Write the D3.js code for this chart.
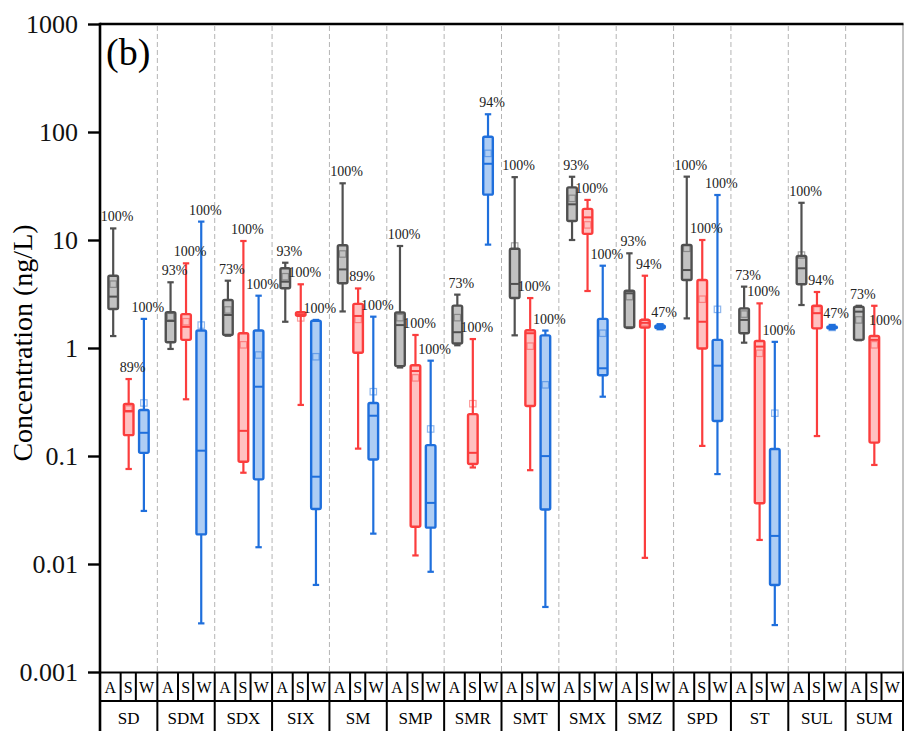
<!DOCTYPE html>
<html lang="en">
<head>
<meta charset="UTF-8">
<title>Concentration box plot</title>
<style>
body { margin: 0; background: #fff; }
svg text { font-family: "Liberation Serif", "Times New Roman", Times, serif; }
.sep { stroke: #b4b4b4; stroke-width: 1; stroke-dasharray: 5,3; }
.pct { font-size: 14px; fill: #222; text-anchor: middle; }
.tbl { stroke: #000; stroke-width: 2; }
</style>
</head>
<body>
<script src="https://d3js.org/d3.v7.min.js"></script>
<script>
// groups and the three sample types
var groups = ["SD", "SDM", "SDX", "SIX", "SM", "SMP", "SMR", "SMT", "SMX", "SMZ", "SPD", "ST", "SUL", "SUM"];
var types = ["A", "S", "W"];
var tickVals = [0.001, 0.01, 0.1, 1, 10, 100, 1000];
var tickText = ["0.001", "0.01", "0.1", "1", "10", "100", "1000"];

// [whisker low, Q1, median, Q3, whisker high, mean] per group
var statA = [
  [1.29, 2.30, 2.99, 4.67, 12.8, 3.9],
  [0.98, 1.13, 1.78, 2.14, 4.06, 1.95],
  [1.30, 1.32, 2.02, 2.78, 4.2, 2.25],
  [1.75, 3.57, 4.11, 5.47, 6.16, 4.57],
  [2.18, 3.98, 5.34, 8.93, 33.5, 7.42],
  [0.66, 0.68, 1.63, 2.13, 8.8, 1.91],
  [1.06, 1.10, 1.40, 2.47, 3.12, 1.91],
  [1.31, 2.9, 3.92, 8.29, 38.2, 8.8],
  [10.0, 15.0, 21.4, 30.7, 38.5, 24.3],
  [1.53, 1.55, 3.21, 3.39, 7.53, 2.99],
  [1.88, 4.26, 5.27, 8.99, 38.6, 8.38],
  [1.12, 1.37, 1.82, 2.33, 3.7, 2.06],
  [2.5, 3.89, 5.47, 7.11, 22.1, 7.25],
  [1.18, 1.19, 2.17, 2.41, 2.46, 1.82]
];
var statS = [
  [0.0758, 0.156, 0.261, 0.303, 0.516, 0.272],
  [0.335, 1.19, 1.57, 2.06, 6.08, 1.75],
  [0.070, 0.0885, 0.171, 1.37, 9.79, 1.07],
  [0.297, 1.99, 2.05, 2.14, 3.89, 1.9],
  [0.117, 0.903, 1.98, 2.56, 3.56, 1.84],
  [0.012, 0.0221, 0.612, 0.693, 1.32, 0.529],
  [0.0783, 0.0843, 0.107, 0.244, 1.21, 0.305],
  [0.0739, 0.29, 1.37, 1.46, 2.9, 1.04],
  [3.37, 11.4, 16.2, 19.4, 23.5, 13.8],
  [0.0114, 1.55, 1.71, 1.82, 4.67, 1.74],
  [0.124, 0.99, 1.75, 4.26, 10.0, 2.83],
  [0.0167, 0.0365, 1.03, 1.16, 2.59, 0.893],
  [0.153, 1.52, 2.1, 2.46, 3.3, 2.25],
  [0.0826, 0.133, 1.19, 1.29, 2.46, 1.07]
];
var statW = [
  [0.031, 0.107, 0.164, 0.267, 1.86, 0.31],
  [0.00282, 0.0188, 0.112, 1.45, 14.8, 1.63],
  [0.0143, 0.0608, 0.438, 1.45, 3.05, 0.861],
  [0.0064, 0.0323, 0.0643, 1.79, 1.82, 0.83],
  [0.0191, 0.0928, 0.236, 0.31, 1.95, 0.394],
  [0.00847, 0.0217, 0.0368, 0.126, 0.763, 0.178],
  [9.06, 26.3, 50.8, 90.3, 146, 63.4],
  [0.004, 0.032, 0.0998, 1.31, 1.45, 0.456],
  [0.354, 0.559, 0.649, 1.86, 5.78, 1.37],
  [1.50, 1.53, 1.57, 1.62, 1.66, 1.57],
  [0.068, 0.211, 0.686, 1.19, 26.1, 2.28],
  [0.00272, 0.0064, 0.0182, 0.116, 1.14, 0.249],
  [1.49, 1.52, 1.55, 1.58, 1.63, 1.55],
  null
];
// detection frequency (%)
var pctA = [100, 93, 73, 93, 100, 100, 73, 100, 93, 93, 100, 73, 100, 73];
var pctS = [89, 100, 100, 100, 89, 100, 100, 100, 100, 94, 100, 100, 94, 100];
var pctW = [100, 100, 100, 100, 100, 100, 94, 100, 100, 47, 100, 100, 47, null];

var stats = { A: statA, S: statS, W: statW };
var pcts = { A: pctA, S: pctS, W: pctW };
var colors = {
  A: { stroke: "#505050", fill: "#c2c2c2" },
  S: { stroke: "#fb3d3d", fill: "#ffc1c1" },
  W: { stroke: "#1f6fdc", fill: "#aecdf4" }
};
var offset = { A: 0.23, S: 0.5, W: 0.765 };
var serif = "'Liberation Serif', 'Times New Roman', Times, serif";

// note: "top" would clash with window.top
var svgW = 904, svgH = 731;
var plotL = 100, plotR = 903, plotT = 24, plotB = 672;

var svg = d3.select("body").append("svg")
    .attr("width", svgW)
    .attr("height", svgH)
    .attr("font-family", serif);

var x = d3.scaleBand().domain(groups).range([plotL, plotR]);
var y = d3.scaleLog().domain([0.001, 1000]).range([plotB, plotT]);
var bw = x.bandwidth();

// dashed separators between groups
svg.append("g").selectAll("line")
  .data(groups.slice(1))
  .enter().append("line")
    .attr("class", "sep")
    .attr("x1", function(d) { return x(d); })
    .attr("x2", function(d) { return x(d); })
    .attr("y1", plotT + 2)
    .attr("y2", plotB);

// right border
svg.append("line")
    .attr("x1", plotR).attr("x2", plotR)
    .attr("y1", plotT).attr("y2", plotB)
    .attr("stroke", "#888").attr("stroke-width", 1);

var boxes = svg.append("g");
var labels = svg.append("g");

groups.forEach(function(gname, i) {
  types.forEach(function(t) {
    var d = stats[t][i];
    if (!d) return;
    var cx = x(gname) + bw * offset[t];
    var c = colors[t];
    var g = boxes.append("g");
    var hw = 4.8;

    g.append("line")
        .attr("x1", cx).attr("x2", cx)
        .attr("y1", y(d[0])).attr("y2", y(d[4]))
        .attr("stroke", c.stroke).attr("stroke-width", 2.2);
    [d[0], d[4]].forEach(function(v) {
      g.append("line")
          .attr("x1", cx - 3.2).attr("x2", cx + 3.2)
          .attr("y1", y(v)).attr("y2", y(v))
          .attr("stroke", c.stroke).attr("stroke-width", 2.2);
    });
    g.append("rect")
        .attr("x", cx - hw)
        .attr("y", y(d[3]))
        .attr("width", hw * 2)
        .attr("height", Math.max(1, y(d[1]) - y(d[3])))
        .attr("rx", 1.5)
        .attr("fill", c.fill)
        .attr("stroke", c.stroke)
        .attr("stroke-width", 2.4);
    g.append("line")
        .attr("x1", cx - hw).attr("x2", cx + hw)
        .attr("y1", y(d[2])).attr("y2", y(d[2]))
        .attr("stroke", c.stroke).attr("stroke-width", 2);
    g.append("rect")
        .attr("x", cx - 3.2)
        .attr("y", y(d[5]) - 3.2)
        .attr("width", 6.4)
        .attr("height", 6.4)
        .attr("fill", "none")
        .attr("stroke", c.stroke)
        .attr("stroke-opacity", 0.5)
        .attr("stroke-width", 1.2);

    var p = pcts[t][i];
    if (p != null) {
      // the last S label sits beside its whisker, as in the source figure
      var beside = (gname === "SUM" && t === "S");
      labels.append("text")
          .attr("class", "pct")
          .attr("font-family", serif)
          .attr("x", cx + (beside ? 11 : 4))
          .attr("y", y(d[4]) + (beside ? 19 : -7))
          .text(p + "%");
    }
  });
});

// y axis
var yAxis = d3.axisLeft(y)
    .tickValues(tickVals)
    .tickFormat(function(d, i) { return tickText[i]; })
    .tickSize(12)
    .tickSizeOuter(0)
    .tickPadding(10);

var ax = svg.append("g")
    .attr("transform", "translate(" + plotL + ",0)")
    .call(yAxis)
    .attr("font-family", serif);
ax.select(".domain").remove();
ax.selectAll(".tick line").attr("stroke", "#000").attr("stroke-width", 2.4);
ax.selectAll(".tick text")
    .attr("fill", "#111")
    .attr("font-family", serif)
    .style("font-size", "26px");

// frame lines
svg.append("line")
    .attr("x1", plotL).attr("x2", plotR + 0.5)
    .attr("y1", plotT).attr("y2", plotT)
    .attr("stroke", "#000").attr("stroke-width", 2.6);
svg.append("line")
    .attr("x1", plotL).attr("x2", plotL)
    .attr("y1", plotT - 1.3).attr("y2", svgH)
    .attr("stroke", "#000").attr("stroke-width", 2.6);

// category table below the axis
var tbl = svg.append("g");
var rowMid = 701, rowEnd = svgH;
tbl.append("line").attr("class", "tbl")
    .attr("x1", plotL).attr("x2", plotR + 1)
    .attr("y1", plotB + 0.5).attr("y2", plotB + 0.5)
    .attr("stroke-width", 2.6);
tbl.append("line").attr("class", "tbl")
    .attr("x1", plotL).attr("x2", plotR + 1)
    .attr("y1", rowMid).attr("y2", rowMid);

groups.forEach(function(gname, i) {
  var gx = x(gname);
  if (i > 0) {
    tbl.append("line").attr("class", "tbl")
        .attr("x1", gx).attr("x2", gx)
        .attr("y1", plotB).attr("y2", rowEnd);
  }
  [0.36, 0.625].forEach(function(f) {
    tbl.append("line").attr("class", "tbl")
        .attr("x1", gx + bw * f).attr("x2", gx + bw * f)
        .attr("y1", plotB).attr("y2", rowMid);
  });
  var cells = [[0, 0.36], [0.36, 0.625], [0.625, 1]];
  types.forEach(function(t, j) {
    tbl.append("text")
        .attr("x", gx + bw * (cells[j][0] + cells[j][1]) / 2)
        .attr("y", 693)
        .attr("text-anchor", "middle")
        .attr("font-family", serif)
        .style("font-size", "16px")
        .text(t);
  });
  tbl.append("text")
      .attr("x", gx + bw / 2)
      .attr("y", 724)
      .attr("text-anchor", "middle")
      .attr("font-family", serif)
      .style("font-size", "17px")
      .text(gname);
});
tbl.append("line").attr("class", "tbl")
    .attr("x1", plotR).attr("x2", plotR)
    .attr("y1", plotB).attr("y2", rowEnd);

// axis title and panel tag
svg.append("text")
    .attr("transform", "translate(32," + ((plotT + plotB) / 2 - 5) + ")rotate(-90)")
    .attr("text-anchor", "middle")
    .attr("font-family", serif)
    .style("font-size", "28px")
    .text("Concentration (ng/L)");

svg.append("text")
    .attr("x", 106)
    .attr("y", 65)
    .attr("font-family", serif)
    .style("font-size", "38px")
    .text("(b)");
</script>
</body>
</html>
